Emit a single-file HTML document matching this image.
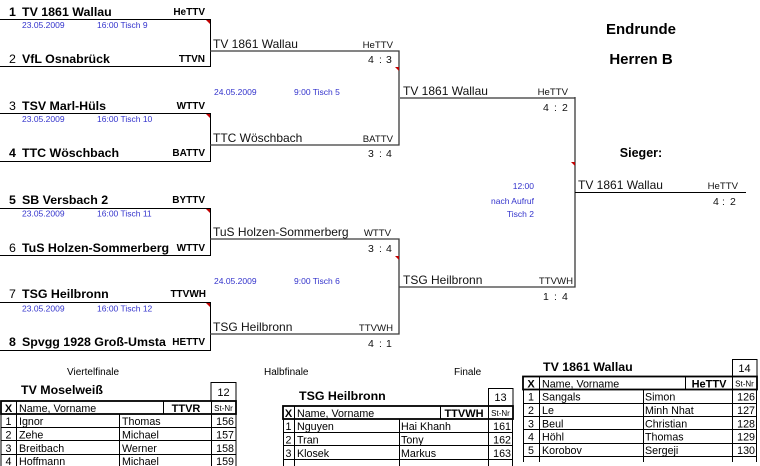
<!DOCTYPE html>
<html><head><meta charset="utf-8">
<style>
html,body{margin:0;padding:0;background:#fff;}
svg{display:block;font-family:"Liberation Sans",Arial,sans-serif;}
.tb{font-weight:bold;font-size:12.4px;fill:#000;}
.tn{font-size:12.4px;fill:#000;}
.vb{font-weight:bold;font-size:10px;fill:#000;}
.r2{font-size:12px;fill:#111;}
.v2{font-size:9.6px;fill:#111;}
.sc{font-size:10.5px;fill:#111;}
.bl{font-size:8.5px;fill:#3333cc;}
.ln{fill:none;stroke:#000;stroke-width:1;}
.ln2{fill:none;stroke:#3a3a3a;stroke-width:1.3;}
.tri{fill:#c00000;}
.td{font-size:10.7px;fill:#000;}
.th{font-weight:bold;font-size:11px;fill:#000;}
.sn{font-size:8px;fill:#000;}
</style></head>
<body>
<svg width="760" height="466" viewBox="0 0 760 466" xmlns="http://www.w3.org/2000/svg">
<defs>
<clipPath id="c1"><rect x="0" y="230" width="171" height="30"/></clipPath>
</defs>

<!-- Round 1 box 1 -->
<path class="ln" d="M0 19.5H210.5V66.5H0"/>
<polygon class="tri" points="206,20 210,20 210,24"/>
<text class="tb" x="9" y="16">1</text><text class="tb" x="22" y="16">TV 1861 Wallau</text>
<text class="vb" x="205" y="15" text-anchor="end">HeTTV</text>
<text class="bl" x="22" y="28">23.05.2009</text><text class="bl" x="97" y="28">16:00  Tisch 9</text>
<text class="tn" x="9" y="63">2</text><text class="tb" x="22" y="63">VfL Osnabrück</text>
<text class="vb" x="205" y="62" text-anchor="end">TTVN</text>

<!-- Round 1 box 2 -->
<path class="ln" d="M0 113.5H210.5V161.5H0"/>
<polygon class="tri" points="206,114 210,114 210,118"/>
<text class="tn" x="9" y="110">3</text><text class="tb" x="22" y="110">TSV Marl-Hüls</text>
<text class="vb" x="205" y="109" text-anchor="end">WTTV</text>
<text class="bl" x="22" y="122">23.05.2009</text><text class="bl" x="97" y="122">16:00  Tisch 10</text>
<text class="tb" x="9" y="157">4</text><text class="tb" x="22" y="157">TTC Wöschbach</text>
<text class="vb" x="205" y="156" text-anchor="end">BATTV</text>

<!-- Round 1 box 3 -->
<path class="ln" d="M0 208.5H210.5V255.5H0"/>
<polygon class="tri" points="206,209 210,209 210,213"/>
<text class="tb" x="9" y="204">5</text><text class="tb" x="22" y="204">SB Versbach 2</text>
<text class="vb" x="205" y="203" text-anchor="end">BYTTV</text>
<text class="bl" x="22" y="216.5">23.05.2009</text><text class="bl" x="97" y="216.5">16:00  Tisch 11</text>
<text class="tn" x="9" y="252">6</text><text class="tb" x="22" y="252" clip-path="url(#c1)">TuS Holzen-Sommerberg</text>
<text class="vb" x="205" y="251" text-anchor="end">WTTV</text>

<!-- Round 1 box 4 -->
<path class="ln" d="M0 302.5H210.5V350.5H0"/>
<polygon class="tri" points="206,303 210,303 210,307"/>
<text class="tn" x="9" y="298">7</text><text class="tb" x="22" y="298">TSG Heilbronn</text>
<text class="vb" x="206" y="297" text-anchor="end">TTVWH</text>
<text class="bl" x="22" y="311.5">23.05.2009</text><text class="bl" x="97" y="311.5">16:00  Tisch 12</text>
<text class="tb" x="9" y="346">8</text><text class="tb" x="22" y="346">Spvgg 1928 Groß-Umsta</text>
<text class="vb" x="205" y="345" text-anchor="end">HETTV</text>

<!-- Round 2 box A -->
<path class="ln2" d="M210 51H399V145H210"/>
<polygon class="tri" points="395,67 399,67 399,71"/>
<text class="r2" x="213" y="48">TV 1861 Wallau</text>
<text class="v2" x="393" y="48" text-anchor="end">HeTTV</text>
<text class="sc" x="368" y="63">4</text><text class="sc" x="379" y="63">:</text><text class="sc" x="386" y="63">3</text>
<text class="bl" x="214" y="95">24.05.2009</text><text class="bl" x="294" y="95">9:00  Tisch 5</text>
<text class="r2" x="213" y="142">TTC Wöschbach</text>
<text class="v2" x="393" y="142" text-anchor="end">BATTV</text>
<text class="sc" x="368" y="157">3</text><text class="sc" x="379" y="157">:</text><text class="sc" x="386" y="157">4</text>

<!-- Round 2 box B -->
<path class="ln2" d="M210 239H399V334H210"/>
<polygon class="tri" points="395,256 399,256 399,260"/>
<text class="r2" x="213" y="236">TuS Holzen-Sommerberg</text>
<text class="v2" x="391" y="236" text-anchor="end">WTTV</text>
<text class="sc" x="368" y="252">3</text><text class="sc" x="379" y="252">:</text><text class="sc" x="386" y="252">4</text>
<text class="bl" x="214" y="284">24.05.2009</text><text class="bl" x="294" y="284">9:00  Tisch 6</text>
<text class="r2" x="213" y="331">TSG Heilbronn</text>
<text class="v2" x="393" y="331" text-anchor="end">TTVWH</text>
<text class="sc" x="368" y="347">4</text><text class="sc" x="379" y="347">:</text><text class="sc" x="386" y="347">1</text>

<!-- Round 3 -->
<path d="M399 98H575" stroke="#808080" stroke-width="2" fill="none"/>
<path class="ln2" d="M575 97V287H399"/>
<polygon class="tri" points="571,162 575,162 575,166"/>
<text class="r2" x="403" y="95">TV 1861 Wallau</text>
<text class="v2" x="568" y="95" text-anchor="end">HeTTV</text>
<text class="sc" x="543" y="111">4</text><text class="sc" x="554" y="111">:</text><text class="sc" x="562" y="111">2</text>
<text class="r2" x="403" y="284">TSG Heilbronn</text>
<text class="v2" x="573" y="284" text-anchor="end">TTVWH</text>
<text class="sc" x="543" y="300">1</text><text class="sc" x="554" y="300">:</text><text class="sc" x="562" y="300">4</text>

<text class="bl" x="534" y="189" text-anchor="end">12:00</text>
<text class="bl" x="534" y="204" text-anchor="end">nach Aufruf</text>
<text class="bl" x="534" y="217" text-anchor="end">Tisch 2</text>

<!-- Final -->
<path class="ln" d="M575 192.5H746"/>
<text class="r2" x="578" y="189">TV 1861 Wallau</text>
<text class="v2" x="738" y="189" text-anchor="end">HeTTV</text>
<text class="sc" x="713" y="205">4</text><text class="sc" x="722" y="205">:</text><text class="sc" x="730" y="205">2</text>

<text x="641" y="34" text-anchor="middle" font-weight="bold" font-size="15">Endrunde</text>
<text x="641" y="64" text-anchor="middle" font-weight="bold" font-size="15">Herren B</text>
<text x="641" y="157" text-anchor="middle" font-weight="bold" font-size="12.5">Sieger:</text>

<!-- Round labels -->
<text x="67" y="375" font-size="10">Viertelfinale</text>
<text x="264" y="375" font-size="10">Halbfinale</text>
<text x="454" y="375" font-size="10">Finale</text>

<!-- Table 1 -->
<text class="tb" x="21" y="394">TV Moselweiß</text>
<rect x="211" y="382.5" width="25" height="18.5" fill="none" stroke="#000"/>
<text x="223.5" y="396" text-anchor="middle" font-size="11">12</text>
<rect x="1" y="401" width="235" height="13" fill="none" stroke="#000" stroke-width="1.8"/>
<path class="ln" d="M16.5 401V466M163.5 401V414M211.5 401V466M119.5 414V466M1 414V466M236 414V466"/>
<path class="ln" d="M1 427.5H236M1 440.5H236M1 454.5H236"/>
<text class="th" x="8.5" y="412" text-anchor="middle">X</text>
<text class="td" x="19" y="412">Name, Vorname</text>
<text class="th" x="186" y="412" text-anchor="middle">TTVR</text>
<text class="sn" x="223.5" y="411" text-anchor="middle">St-Nr</text>
<text class="td" x="8.5" y="425" text-anchor="middle">1</text><text class="td" x="19" y="425">Ignor</text><text class="td" x="122" y="425">Thomas</text><text class="td" x="234" y="425" text-anchor="end">156</text>
<text class="td" x="8.5" y="438.5" text-anchor="middle">2</text><text class="td" x="19" y="438.5">Zehe</text><text class="td" x="122" y="438.5">Michael</text><text class="td" x="234" y="438.5" text-anchor="end">157</text>
<text class="td" x="8.5" y="452" text-anchor="middle">3</text><text class="td" x="19" y="452">Breitbach</text><text class="td" x="122" y="452">Werner</text><text class="td" x="234" y="452" text-anchor="end">158</text>
<text class="td" x="8.5" y="465" text-anchor="middle">4</text><text class="td" x="19" y="465">Hoffmann</text><text class="td" x="122" y="465">Michael</text><text class="td" x="234" y="465" text-anchor="end">159</text>

<!-- Table 2 -->
<text class="tb" x="299" y="400">TSG Heilbronn</text>
<rect x="488.5" y="388.5" width="24.5" height="17.5" fill="none" stroke="#000"/>
<text x="500.5" y="401" text-anchor="middle" font-size="11">13</text>
<rect x="283" y="406" width="230" height="13" fill="none" stroke="#000" stroke-width="1.8"/>
<path class="ln" d="M294.5 406V466M440.5 406V419M488.5 406V466M399.5 419V466M283.5 419V466M512.5 419V466"/>
<path class="ln" d="M283 432.5H513M283 445.5H513M283 459.5H513"/>
<text class="th" x="288.5" y="417" text-anchor="middle">X</text>
<text class="td" x="297" y="417">Name, Vorname</text>
<text class="th" x="464" y="417" text-anchor="middle">TTVWH</text>
<text class="sn" x="500.5" y="416" text-anchor="middle">St-Nr</text>
<text class="td" x="288.5" y="430" text-anchor="middle">1</text><text class="td" x="297" y="430">Nguyen</text><text class="td" x="401" y="430">Hai Khanh</text><text class="td" x="511" y="430" text-anchor="end">161</text>
<text class="td" x="288.5" y="443.5" text-anchor="middle">2</text><text class="td" x="297" y="443.5">Tran</text><text class="td" x="401" y="443.5">Tony</text><text class="td" x="511" y="443.5" text-anchor="end">162</text>
<text class="td" x="288.5" y="457" text-anchor="middle">3</text><text class="td" x="297" y="457">Klosek</text><text class="td" x="401" y="457">Markus</text><text class="td" x="511" y="457" text-anchor="end">163</text>

<!-- Table 3 -->
<text class="tb" x="543" y="371">TV 1861 Wallau</text>
<rect x="732.5" y="359.5" width="24.5" height="17" fill="none" stroke="#000"/>
<text x="744.5" y="372" text-anchor="middle" font-size="11">14</text>
<rect x="523" y="376.5" width="234" height="13" fill="none" stroke="#000" stroke-width="1.8"/>
<path class="ln" d="M539.5 376V462M685.5 376V389M732.5 376V462M643.5 389V462M523.5 389V462M756.5 389V462"/>
<path class="ln" d="M523 403.5H757M523 416.5H757M523 429.5H757M523 443.5H757M523 456.5H757"/>
<text class="th" x="531" y="387.5" text-anchor="middle">X</text>
<text class="td" x="542" y="387.5">Name, Vorname</text>
<text class="th" x="709" y="387.5" text-anchor="middle">HeTTV</text>
<text class="sn" x="744.5" y="386.5" text-anchor="middle">St-Nr</text>
<text class="td" x="531" y="400.7" text-anchor="middle">1</text><text class="td" x="542" y="400.7">Sangals</text><text class="td" x="645" y="400.7">Simon</text><text class="td" x="755" y="400.7" text-anchor="end">126</text>
<text class="td" x="531" y="414" text-anchor="middle">2</text><text class="td" x="542" y="414">Le</text><text class="td" x="645" y="414">Minh Nhat</text><text class="td" x="755" y="414" text-anchor="end">127</text>
<text class="td" x="531" y="427.3" text-anchor="middle">3</text><text class="td" x="542" y="427.3">Beul</text><text class="td" x="645" y="427.3">Christian</text><text class="td" x="755" y="427.3" text-anchor="end">128</text>
<text class="td" x="531" y="440.7" text-anchor="middle">4</text><text class="td" x="542" y="440.7">Höhl</text><text class="td" x="645" y="440.7">Thomas</text><text class="td" x="755" y="440.7" text-anchor="end">129</text>
<text class="td" x="531" y="454" text-anchor="middle">5</text><text class="td" x="542" y="454">Korobov</text><text class="td" x="645" y="454">Sergeji</text><text class="td" x="755" y="454" text-anchor="end">130</text>
</svg>
</body></html>
